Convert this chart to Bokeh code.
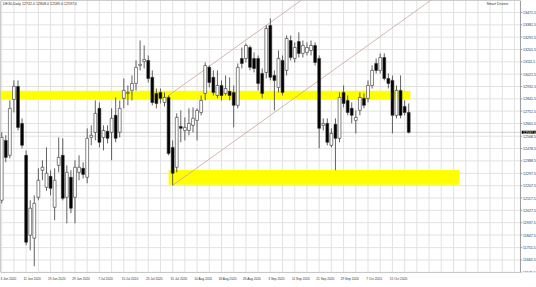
from bokeh.plotting import figure
from bokeh.models import Range1d, FixedTicker, ColumnDataSource
from bokeh.core.properties import value
from bokeh.embed import file_html
from bokeh.resources import INLINE
import pandas as pd

# ---------------- data ----------------
symbol = "DE30,Daily"
dates = pd.bdate_range("2020-06-03", "2020-10-21")

opens = [12101, 12538, 12429, 12837, 12932, 12662, 12429, 11846, 11824, 12123,
         12320, 12196, 12276, 12050, 12356, 12429, 12123, 12269, 12123, 12305,
         12334, 12269, 12560, 12597, 12772, 12560, 12604, 12597, 12721, 12597,
         12845, 12881, 12903, 12954, 13085, 13114, 13122, 12998, 12881, 12888,
         12815, 12852, 12487, 12342, 12640, 12611, 12611, 12648, 12684, 12742,
         12881, 13071, 12998, 12866, 12939, 12881, 12896, 12888, 12794, 13136,
         13136, 13216, 13136, 13136, 13027, 13034, 13377, 13012, 12925, 13122,
         13049, 13267, 13136, 13260, 13173, 13180, 13194, 13231, 13136, 12648,
         12662, 12502, 12655, 12553, 12888, 12830, 12772, 12684, 12757, 12845,
         12845, 12939, 13100, 13049, 13143, 12990, 12976, 12721, 12903, 12786,
         12742]
highs = [12597, 12575, 12830, 12976, 12976, 12699, 12465, 12101, 12137, 12334,
         12393, 12487, 12320, 12334, 12560, 12553, 12356, 12320, 12393, 12429,
         12378, 12626, 12648, 12830, 12815, 12648, 12648, 12772, 12852, 12830,
         12990, 12939, 13012, 13122, 13267, 13231, 13158, 13049, 12917, 12917,
         12888, 12866, 12538, 12735, 12757, 12706, 12772, 12779, 12772, 12866,
         13107, 13085, 13049, 13049, 12976, 13012, 12998, 12939, 13100, 13216,
         13245, 13231, 13180, 13158, 13063, 13377, 13428, 13049, 13194, 13158,
         13304, 13304, 13253, 13326, 13267, 13253, 13267, 13253, 13158, 12699,
         12699, 12626, 12699, 12888, 12939, 12866, 12815, 12757, 12888, 12881,
         12976, 13085, 13136, 13173, 13173, 13027, 13012, 12939, 13012, 12830,
         12808]
lows = [12079, 12378, 12407, 12742, 12611, 12480, 11773, 11736, 11620, 12101,
        12247, 12170, 12137, 11955, 12305, 12101, 11933, 12007, 11933, 12247,
        12261, 12225, 12502, 12538, 12487, 12465, 12517, 12393, 12524, 12560,
        12772, 12794, 12830, 12903, 13049, 13063, 12961, 12794, 12772, 12808,
        12786, 12429, 12210, 12305, 12524, 12538, 12575, 12597, 12538, 12721,
        12830, 12925, 12866, 12845, 12830, 12866, 12830, 12633, 12772, 13063,
        13107, 13049, 13034, 12903, 12845, 12990, 12976, 12757, 12888, 12866,
        13012, 13122, 13107, 13143, 13143, 13158, 13158, 13085, 12480, 12611,
        12502, 12487, 12320, 12524, 12779, 12721, 12662, 12589, 12721, 12772,
        12815, 12917, 13027, 13027, 12976, 12917, 12589, 12699, 12699, 12721,
        12589]
closes = [12560, 12414, 12772, 12932, 12633, 12502, 11795, 12043, 12079, 12247,
          12342, 12298, 12188, 12247, 12414, 12115, 12305, 12043, 12342, 12342,
          12290, 12553, 12575, 12735, 12524, 12611, 12553, 12699, 12553, 12772,
          12903, 12888, 12954, 13071, 13093, 13129, 12990, 12815, 12808, 12845,
          12852, 12443, 12298, 12706, 12626, 12633, 12662, 12699, 12757, 12830,
          13085, 12961, 12888, 12939, 12866, 12917, 12866, 12794, 13071, 13100,
          13231, 13071, 13063, 12954, 12881, 13355, 12998, 12976, 13136, 12888,
          13282, 13143, 13216, 13173, 13231, 13216, 13231, 13107, 12626, 12662,
          12524, 12589, 12553, 12852, 12808, 12742, 12721, 12706, 12852, 12794,
          12939, 13049, 13049, 13143, 12990, 12954, 12721, 12903, 12721, 12742,
          12597]

date_labels = ["3 Jun 2020", "11 Jun 2020", "19 Jun 2020", "29 Jun 2020", "7 Jul 2020",
               "15 Jul 2020", "23 Jul 2020", "31 Jul 2020", "10 Aug 2020", "18 Aug 2020",
               "26 Aug 2020", "3 Sep 2020", "11 Sep 2020", "21 Sep 2020", "29 Sep 2020",
               "7 Oct 2020", "15 Oct 2020"]
price_labels = ["13471.5", "13381.5", "13291.5", "13201.5", "13111.5", "13021.5",
                "12931.5", "12841.5", "12751.5", "12661.5", "12568.5", "12478.5",
                "12388.5", "12297.5", "12207.5", "12117.5", "12027.5", "11937.5",
                "11847.5", "11755.5", "11665.5", "11575.5"]

# zones: (start bar, end bar, low price, high price)
zone_upper = (-1.0, 100.4, 12835, 12900)
zone_lower = (41.0, 112.5, 12215, 12322)
# channel lines: (bar, price) anchors
channel_top = [(41, 12866), (80, 13697)]
channel_bottom = [(42, 12210), (110, 13658)]

# ---------------- figure ----------------
n = len(closes)
idx = list(range(n))
inc = [c >= o for o, c in zip(opens, closes)]
x0, x_edge, x_end = -0.3, 127.46, 131.4     # chart left, price-scale edge, canvas right
y0, y1 = 11574, 13559
FONT = value("Liberation Sans")
GRID = "#e2e2e2"
EDGE = "#9a9a9a"

p = figure(width=536, height=287, output_backend="svg", toolbar_location=None,
           x_range=Range1d(x0, x_end), y_range=Range1d(y0, y1),
           y_axis_location=None, min_border_left=0, min_border_top=0,
           min_border_right=0, min_border_bottom=15, background_fill_color="white",
           border_fill_color="white")
p.outline_line_color = None
p.xgrid.visible = False
p.ygrid.visible = False

yt = [float(v) for v in price_labels]
vgrid = list(range(0, 127, 3))

# grid (limited to the chart area)
p.segment(x0=x0, x1=x_edge, y0=yt, y1=yt, line_color=GRID, line_width=1)
p.segment(x0=vgrid, x1=vgrid, y0=y0, y1=y1, line_color=GRID, line_width=1)

# zones (background)
for z in (zone_upper, zone_lower):
    p.quad(left=z[0], right=z[1], bottom=z[2], top=z[3], fill_color="#ffff00",
           line_color=None)

# bid line
last = closes[-1]
p.segment(x0=x0, x1=x_edge, y0=last, y1=last, line_color="#b8b8b8", line_width=0.6)

# channel lines
for ln in (channel_top, channel_bottom):
    p.line([a[0] for a in ln], [a[1] for a in ln], line_color="#c9a49c", line_width=0.8)

# candles
src = ColumnDataSource(dict(
    x=idx, o=opens, h=highs, l=lows, c=closes,
    top=[max(o, c) for o, c in zip(opens, closes)],
    bot=[min(o, c) for o, c in zip(opens, closes)],
    fill=["white" if u else "black" for u in inc],
))
p.segment(x0="x", x1="x", y0="l", y1="h", source=src, line_color="#3a3a3a", line_width=0.8)
p.vbar(x="x", width=0.7, top="top", bottom="bot", source=src, fill_color="fill",
       line_color="#333333", line_width=0.6)

# chart frame: left / top / right (price scale edge) lines
p.segment(x0=[x0, x0, x_edge], x1=[x0, x_edge, x_edge], y0=[y0, y1, y0], y1=[y1, y1, y1],
          line_color=EDGE, line_width=1)

# price scale (right)
p.segment(x0=x_edge, x1=x_edge + 0.45, y0=yt, y1=yt, line_color=EDGE, line_width=1)
p.text(x=x_edge + 0.6, y=yt, text=price_labels, text_font=FONT, text_font_size="3.6px",
       text_color="#333333", text_baseline="middle")
# current price box
p.quad(left=x_edge + 0.3, right=x_end, bottom=last - 11, top=last + 11,
       fill_color="black", line_color=None)
p.text(x=[x_edge + 0.6], y=[last], text=[f"{last:.1f}"], text_font=FONT,
       text_font_size="3.6px", text_color="white", text_baseline="middle")

# date axis (bottom)
shift = 1.5
date_pos = [dates.get_loc(pd.Timestamp(d)) + shift for d in date_labels]
p.xaxis.ticker = FixedTicker(ticks=date_pos)
p.xaxis.major_label_overrides = {pos: d for pos, d in zip(date_pos, date_labels)}
p.xaxis.major_label_text_font_size = "3.2px"
p.xaxis.major_label_text_font = "Liberation Sans"
p.xaxis.major_label_text_color = "#333333"
p.xaxis.major_tick_line_color = None
p.xaxis.minor_tick_line_color = None
p.xaxis.major_tick_out = 0
p.xaxis.major_tick_in = 0
p.xaxis.major_label_standoff = 4
p.xaxis.axis_line_color = None
p.segment(x0=x0, x1=x_edge, y0=y0, y1=y0, line_color=EDGE, line_width=1.2)

# header texts
header = f"{symbol}  {opens[-1]:.1f}  {highs[-1]:.1f}  {lows[-1]:.1f}  {closes[-1]:.1f}"
p.text(x=[0.3], y=[13530], text=[header], text_font=FONT, text_font_size="3.6px",
       text_color="#333333", text_baseline="middle")
p.text(x=[124.5], y=[13530], text=["Smart Drivers"], text_font=FONT, text_font_size="3.6px",
       text_color="#333333", text_baseline="middle", text_align="right")

open("out.html", "w").write(file_html(p, INLINE))
